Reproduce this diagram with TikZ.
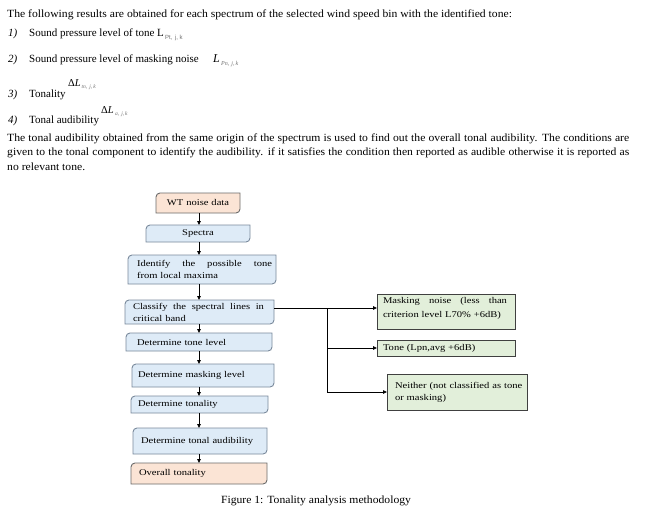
\documentclass[tikz,border=0pt]{standalone}
\usepackage{fontspec}
\setmainfont{Liberation Serif}
\newfontfamily\bodyfont[FakeStretch=1.06]{Liberation Serif}
\newfontfamily\itemfont{Liberation Serif}
\newfontfamily\boxfont[FakeStretch=1.2]{Liberation Serif}
\newfontfamily\subsans{Liberation Sans}
\usetikzlibrary{arrows.meta,backgrounds,calc}
\definecolor{orfill}{HTML}{FBE4D5}
\definecolor{ordraw}{HTML}{6B6B6B}
\definecolor{blfill}{HTML}{DEEBF7}
\definecolor{bldraw}{HTML}{7A8A9C}
\definecolor{grfill}{HTML}{E2EFDA}
\definecolor{grdraw}{HTML}{404040}
\definecolor{subgray}{HTML}{707070}
\newcommand\rdiag[2]{\path[#2] ([yshift=-4pt]#1.north west) arc[start angle=180,end angle=90,radius=4pt] -- (#1.north east) -- ([yshift=4pt]#1.south east) arc[start angle=0,end angle=-90,radius=4pt] -- (#1.south west) -- cycle;}
\begin{document}
\begin{tikzpicture}[x=1pt,y=1pt,
  txt/.style={anchor=base west, inner sep=0, font=\bodyfont\fontsize{11}{13}\selectfont},
  itm/.style={anchor=base west, inner sep=0, font=\itemfont\fontsize{11}{13}\selectfont},
  num/.style={anchor=base west, inner sep=0, font=\itemfont\itshape\fontsize{11}{13}\selectfont},
  subs/.style={anchor=base west, inner sep=0, text=subgray},
  bx/.style={anchor=north west, inner ysep=0, outer sep=0, font=\boxfont\fontsize{8.8}{12}\selectfont, align=left},
  obox/.style={fill=orfill, draw=ordraw, line width=0.9pt},
  bbox/.style={fill=blfill, draw=bldraw, line width=0.9pt},
  gbox/.style={fill=grfill, draw=grdraw, line width=0.9pt},
  arr/.style={draw=black, line width=0.8pt, -{Triangle[length=4pt,width=3.5pt]}},
  ln/.style={draw=black, line width=0.8pt}]
\useasboundingbox (0,0) rectangle (647,-511);

% ---- text above the figure ----
\node[txt] (l0) at (7,-17.5) {The following results are obtained for each spectrum of the selected wind speed bin with the identified tone:};
\node[num] (n1) at (8,-37) {1)};
\node[itm] (i1) at (29,-37) {Sound pressure level of tone};
\node[itm] (L1) at (157,-37) {L};
\node[subs, font=\subsans\fontsize{6}{7}\selectfont] (s1) at (165,-39.5) {Pt,\hspace{2.5pt}j,\hspace{1.5pt}k};

\node[num] (n2) at (8,-63) {2)};
\node[itm] (i2) at (29,-63) {Sound pressure level of masking noise};
\node[itm, font=\itemfont\itshape\fontsize{12}{13}\selectfont] (L2) at (213,-63) {L};
\node[subs, font=\itemfont\itshape\fontsize{6}{7}\selectfont] (s2) at (221,-66) {Pn,\hspace{2pt}j,\hspace{1pt}k};

\node[num] (n3) at (8,-97) {3)};
\node[itm] (i3) at (29,-97) {Tonality};
\node[itm, font=\itemfont\fontsize{10.5}{12}\selectfont] (L3) at (68,-86) {Δ\textit{L}};
\node[subs, font=\itemfont\itshape\fontsize{5.5}{7}\selectfont] (s3) at (81.5,-88) {tn,\hspace{2pt}j,\hspace{1pt}k};

\node[num] (n4) at (8,-123) {4)};
\node[itm] (i4) at (29,-123) {Tonal audibility};
\node[itm, font=\itemfont\fontsize{10.5}{12}\selectfont] (L4) at (101,-113) {Δ\textit{L}};
\node[subs, font=\itemfont\itshape\fontsize{5.5}{7}\selectfont] (s4) at (115,-115) {a,\hspace{2pt}j,\hspace{1pt}k};

\node[txt] (p1) at (7,-141) {\makebox[622pt][s]{The tonal audibility obtained from the same origin of the spectrum is used to find out the overall tonal audibility. The conditions are}};
\node[txt] (p2) at (7,-155.5) {\makebox[622pt][s]{given to the tonal component to identify the audibility. if it satisfies the condition then reported as audible otherwise it is reported as}};
\node[txt] (p3) at (7,-170) {no relevant tone.};

% ---- flowchart ----
\node[bx, inner xsep=0, text width=84pt, minimum height=20pt, align=center] (wt) at (156,-193) {WT noise data};
\node[bx, inner xsep=0, text width=104pt, minimum height=17pt, align=center] (spectra) at (146,-225) {Spectra};
\node[bx, inner xsep=9pt, text width=130pt, minimum height=29pt] (identify) at (128,-255) {\makebox[135pt][l]{Identify\hfill the\hfill possible\hfill tone}\\from local maxima};
\node[bx, inner xsep=8pt, text width=133pt, minimum height=24pt] (classify) at (125,-300) {\makebox[131pt][l]{Classify\hfill the\hfill spectral\hfill lines\hfill in}\\critical band};
\node[bx, inner xsep=11pt, text width=124pt, minimum height=18pt] (tonelevel) at (126,-333) {Determine tone level};
\node[bx, inner xsep=6pt, text width=130pt, minimum height=23pt] (masklevel) at (132,-364) {Determine masking level};
\node[bx, inner xsep=7pt, text width=123pt, minimum height=17pt] (tonality) at (131,-396) {Determine tonality};
\node[bx, inner xsep=8pt, text width=118pt, minimum height=26pt] (audib) at (133,-428) {Determine tonal audibility};
\node[bx, inner xsep=8pt, text width=120pt, minimum height=21pt] (overall) at (131,-463) {Overall tonality};

\node[bx, inner xsep=6pt, text width=126pt, minimum height=35pt] (masknoise) at (377,-294) {\makebox[124pt][l]{Masking\hfill noise\hfill (less\hfill than}\\[2pt]\mbox{criterion level L70\% +6dB)}\rule[-8pt]{0pt}{8pt}};
\node[bx, inner xsep=6pt, text width=126pt, minimum height=16pt] (tone) at (377,-340) {Tone (Lpn,avg +6dB)};
\node[bx, inner xsep=8pt, text width=124pt, minimum height=36pt] (neither) at (387,-374) {\mbox{Neither (not classified as tone}\\or masking)};

\node[txt, anchor=base] (cap) at (316,-503) {Figure 1: Tonality analysis methodology};

% ---- connectors ----
\coordinate (col) at (199,0);
\draw[arr] (wt.south -| col) -- (spectra.north -| col);
\draw[arr] (spectra.south -| col) -- (identify.north -| col);
\draw[arr] (identify.south -| col) -- (classify.north -| col);
\draw[arr] (classify.south -| col) -- (tonelevel.north -| col);
\draw[arr] (tonelevel.south -| col) -- (masklevel.north -| col);
\draw[arr] (masklevel.south -| col) -- (tonality.north -| col);
\draw[arr] (tonality.south -| col) -- (audib.north -| col);
\draw[arr] (audib.south -| col) -- (overall.north -| col);

\coordinate (split) at (327,-308);
\draw[ln] (classify.east |- split) -- (split);
\draw[arr] (split) -- (split -| masknoise.west);
\draw[arr] (split) |- (neither.west);
\draw[arr] (split |- tone.west) -- (tone.west);

% ---- box outlines ----
\begin{pgfonlayer}{background}
\fill[white] (0,0) rectangle (647,-511);
\rdiag{wt}{obox}
\rdiag{spectra}{bbox}
\rdiag{identify}{bbox}
\rdiag{classify}{bbox}
\rdiag{tonelevel}{bbox}
\rdiag{masklevel}{bbox}
\rdiag{tonality}{bbox}
\rdiag{audib}{bbox}
\rdiag{overall}{obox}
\path[gbox] (masknoise.north west) rectangle (masknoise.south east);
\path[gbox] (tone.north west) rectangle (tone.south east);
\path[gbox] (neither.north west) rectangle (neither.south east);
\end{pgfonlayer}
\end{tikzpicture}
\end{document}
